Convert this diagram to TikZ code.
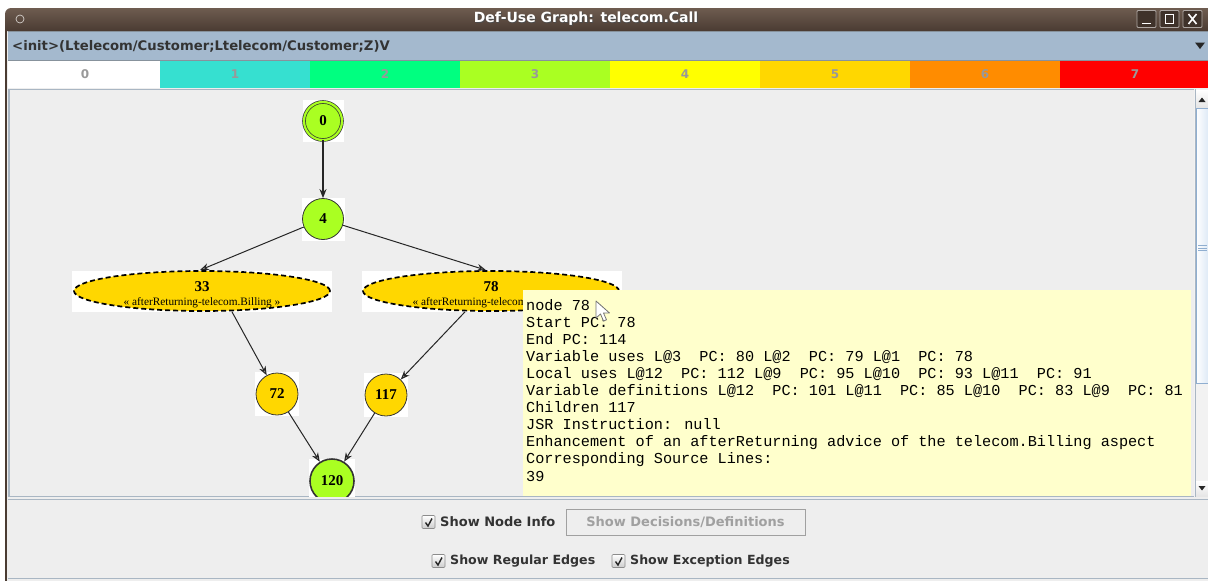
\documentclass[tikz,border=0pt]{standalone}
\usepackage{fontspec}
\setmainfont{DejaVu Sans}
\newfontfamily\monofont{Liberation Mono}
\newfontfamily\serifont{Liberation Serif}
\usetikzlibrary{arrows.meta,shapes.geometric}

\definecolor{titletop}{HTML}{6E5C50}
\definecolor{titlebot}{HTML}{4A3B32}
\definecolor{combobg}{HTML}{A4B9CE}
\definecolor{panelbg}{HTML}{EEEEEE}
\definecolor{panelline}{HTML}{A9B6C3}
\definecolor{cA}{HTML}{36E0D0}
\definecolor{cB}{HTML}{00FF80}
\definecolor{cC}{HTML}{AAFF22}
\definecolor{cD}{HTML}{FFFF00}
\definecolor{cE}{HTML}{FFD700}
\definecolor{cF}{HTML}{FF8C00}
\definecolor{cG}{HTML}{FF0000}
\definecolor{tipbg}{HTML}{FFFFCC}
\definecolor{uitext}{HTML}{333333}
\definecolor{uigray}{HTML}{A0A0A0}
\definecolor{scrollthumb}{HTML}{DCE8F5}
\definecolor{scrolledge}{HTML}{8FAED0}

\tikzset{
  cnode/.style={circle, draw=black!80, line width=0.8pt, inner sep=0pt,
    font=\serifont\bfseries\fontsize{15}{15}\selectfont},
  enode/.style={ellipse, draw=black, line width=1.7pt, dash pattern=on 5pt off 3pt,
    fill=cE, minimum width=256pt, minimum height=40pt, inner sep=0pt},
  etext/.style={align=center, inner sep=0pt,
    font=\serifont\bfseries\fontsize{15}{15}\selectfont},
  flow/.style={draw=black!85, line width=1pt,
    -{Stealth[length=9pt,width=7pt,fill=black!40]}},
  tipline/.style={anchor=base west, inner sep=0pt,
    font=\monofont\fontsize{15.2}{15.2}\selectfont},
  uilabel/.style={anchor=west, inner sep=0pt, text=uitext,
    font=\bfseries\fontsize{13}{13}\selectfont},
  chk/.style={draw=black!45, line width=0.6pt, rounded corners=1pt,
    top color=white, bottom color=black!20},
  barnum/.style={text=black!40, font=\bfseries\fontsize{12}{12}\selectfont},
}

\begin{document}
\begin{tikzpicture}[x=1pt,y=-1pt]
\useasboundingbox (0,0) rectangle (1208,581);
\clip (0,0) rectangle (1208,581);
\fill[white] (0,0) rectangle (1208,581);

% window body and frame
\fill[panelbg] (6,30) rectangle (1210,581);
\draw[titlebot, line width=1.6pt] (6,30) -- (6,581);

% title bar
\shade[top color=titletop, bottom color=titlebot]
  (5,31) [rounded corners=6pt] -- (5,8) -- (1216,8) [sharp corners] -- (1216,31) -- cycle;
\draw[white!70!titletop, line width=0.7pt] (20,19) circle (4);
\node[text=black!70, font=\bfseries\fontsize{14}{14}\selectfont] at (586.8,19.8)
  {Def-Use Graph: telecom.Call};
\node[text=white, font=\bfseries\fontsize{14}{14}\selectfont] (title) at (586,19)
  {Def-Use Graph: telecom.Call};
\foreach \bx in {1137,1160,1183} {
  \draw[white!55!titlebot, fill=titlebot!85!black, line width=0.8pt, rounded corners=1pt]
    (\bx,10.5) rectangle ++(19,17);
}
\draw[white, line width=1.6pt] (1142,23.5) -- (1151,23.5);
\draw[white, line width=1.3pt] (1165.5,14.5) rectangle (1173.5,23.5);
\draw[white, line width=1.6pt] (1188.5,14) -- (1196.5,24) (1196.5,14) -- (1188.5,24);

% method selector
\fill[combobg] (8,31) rectangle (1210,60);
\draw[panelline!80!black, line width=0.6pt] (8,31) -- (1210,31) (8,60) -- (1210,60);
\node[anchor=west, inner sep=0pt, text=black!80, font=\bfseries\fontsize{13.2}{13.2}\selectfont]
  (method) at (12,46) {<init>(Ltelecom/Customer;Ltelecom/Customer;Z)V};
\fill[black!85] (1195,42.5) -- (1205,42.5) -- (1200,49) -- cycle;

% colour scale
\fill[white] (8,61) rectangle (160,88);
\fill[cA] (160,61) rectangle (310,88);
\fill[cB] (310,61) rectangle (460,88);
\fill[cC] (460,61) rectangle (610,88);
\fill[cD] (610,61) rectangle (760,88);
\fill[cE] (760,61) rectangle (910,88);
\fill[cF] (910,61) rectangle (1060,88);
\fill[cG] (1060,61) rectangle (1210,88);
\foreach \i/\cx in {0/85,1/235,2/385,3/535,4/685,5/835,6/985,7/1135} {
  \node[barnum] (scale\i) at (\cx,74.5) {\i};
}

% graph panel
\fill[panelbg] (8,89) rectangle (1194,497);
\draw[panelline, line width=1.2pt] (9,89.6) -- (1194,89.6) (9,89) -- (9,497);
\draw[panelline, line width=1.2pt] (9,496.5) -- (1194,496.5);

% scroll bar
\fill[black!5] (1194,89) rectangle (1210,497);
\draw[panelline, line width=0.8pt] (1195,89) -- (1195,497);
\shade[top color=white, bottom color=black!10] (1196,90) rectangle (1208,107);
\fill[black!85] (1198.5,102) -- (1205.5,102) -- (1202,97.5) -- cycle;
\draw[scrolledge, line width=0.8pt, left color=white, right color=scrollthumb]
  (1196,108) rectangle (1209,383);
\draw[scrolledge, line width=0.7pt] (1198,245.5) -- (1207,245.5) (1198,248) -- (1207,248) (1198,250.5) -- (1207,250.5);
\shade[top color=white, bottom color=black!10] (1196,481) rectangle (1208,496);
\fill[black!85] (1198.5,486) -- (1205.5,486) -- (1202,490.5) -- cycle;

\begin{scope}
\clip (10,91) rectangle (1194,496);
% white image backgrounds behind the nodes
\fill[white] (303,100) rectangle (344,142);
\fill[white] (302,198) rectangle (345,241);
\fill[white] (72,271) rectangle (332,312);
\fill[white] (362,271) rectangle (622,312);
\fill[white] (255,372) rectangle (299,416);
\fill[white] (364,373) rectangle (408,417);
\fill[white] (309,459) rectangle (355,500);

% nodes
\node[cnode, fill=cC, minimum size=38pt, double=cC, double distance=2.2pt, line width=0.7pt]
  (n0) at (323,121) {0};
\node[cnode, fill=cC, minimum size=41pt] (n4) at (323,219) {4};
\node[enode] (n33) at (202,291) {};
\node[etext] (n33txt) at (202,294.5)
  {33\\[-1.5pt]{\mdseries\fontsize{11.3}{11.3}\selectfont « afterReturning-telecom.Billing »}};
\node[enode] (n78) at (491,291) {};
\node[etext] (n78txt) at (491,294.5)
  {78\\[-1.5pt]{\mdseries\fontsize{11.3}{11.3}\selectfont « afterReturning-telecom.Billing »}};
\node[cnode, fill=cE, minimum size=42pt] (n72) at (277,394) {72};
\node[cnode, fill=cE, minimum size=42pt] (n117) at (386,395) {117};
\node[cnode, fill=cC, minimum size=44pt, line width=1.6pt] (n120) at (332,481) {120};

% connectors
\draw[flow, line width=2pt] (n0) -- (n4);
\draw[flow] (n4) -- ([xshift=-2pt]n33.north);
\draw[flow] (n4) -- ([xshift=-5pt]n78.north);
\draw[flow] ([xshift=30pt]n33.south) -- (n72);
\draw[flow] ([xshift=-26pt]n78.south) -- (n117);
\draw[flow] (n72) -- (n120);
\draw[flow] (n117) -- (n120);

% node information tooltip
\fill[tipbg] (523,290) rectangle (1191,496);
\node[tipline] (t0) at (526,310.0) {node 78};
\node[tipline] (t1) at (526,327.1) {Start PC: 78};
\node[tipline] (t2) at (526,344.2) {End PC: 114};
\node[tipline] (t3) at (526,361.3) {Variable uses L@3\ \ PC: 80 L@2\ \ PC: 79 L@1\ \ PC: 78};
\node[tipline] (t4) at (526,378.4) {Local uses L@12\ \ PC: 112 L@9\ \ PC: 95 L@10\ \ PC: 93 L@11\ \ PC: 91};
\node[tipline] (t5) at (526,395.5) {Variable definitions L@12\ \ PC: 101 L@11\ \ PC: 85 L@10\ \ PC: 83 L@9\ \ PC: 81};
\node[tipline] (t6) at (526,412.6) {Children 117};
\node[tipline] (t7) at (526,429.7) {JSR Instruction: null};
\node[tipline] (t8) at (526,446.8) {Enhancement of an afterReturning advice of the telecom.Billing aspect};
\node[tipline] (t9) at (526,463.9) {Corresponding Source Lines:};
\node[tipline] (t10) at (526,481.0) {39};

% mouse pointer
\draw[black!55, fill=white, line width=0.8pt, line join=round]
  (596,301) -- (596,318) -- (600.5,314) -- (603.5,321) -- (606.5,319.8) -- (603.5,313) -- (609.5,313) -- cycle;
\end{scope}

% option panel
\draw[panelline, line width=1pt] (8,499) -- (1210,499);
\draw[panelline, line width=1pt] (8,578.5) -- (1210,578.5);

\draw[chk] (422,515.5) rectangle ++(13,13);
\draw[black!85, line width=1.4pt] (425.5,522.5) -- (428,526) -- (432,518.5);
\node[uilabel] (shownode) at (440,522) {Show Node Info};
\draw[uigray, line width=1pt] (566,509) rectangle (805,535.5);
\node[text=uigray, inner sep=0pt, font=\bfseries\fontsize{13}{13}\selectfont] (decbtn) at (685.5,522)
  {Show Decisions/Definitions};

\draw[chk] (432,554.5) rectangle ++(13,13);
\draw[black!85, line width=1.4pt] (435.5,561.5) -- (438,565) -- (442,557.5);
\node[uilabel, font=\bfseries\fontsize{12.6}{12.6}\selectfont] (showreg) at (450,561) {Show Regular Edges};
\draw[chk] (612,554.5) rectangle ++(13,13);
\draw[black!85, line width=1.4pt] (615.5,561.5) -- (618,565) -- (622,557.5);
\node[uilabel, font=\bfseries\fontsize{12.6}{12.6}\selectfont] (showexc) at (630,561) {Show Exception Edges};
\end{tikzpicture}
\end{document}
